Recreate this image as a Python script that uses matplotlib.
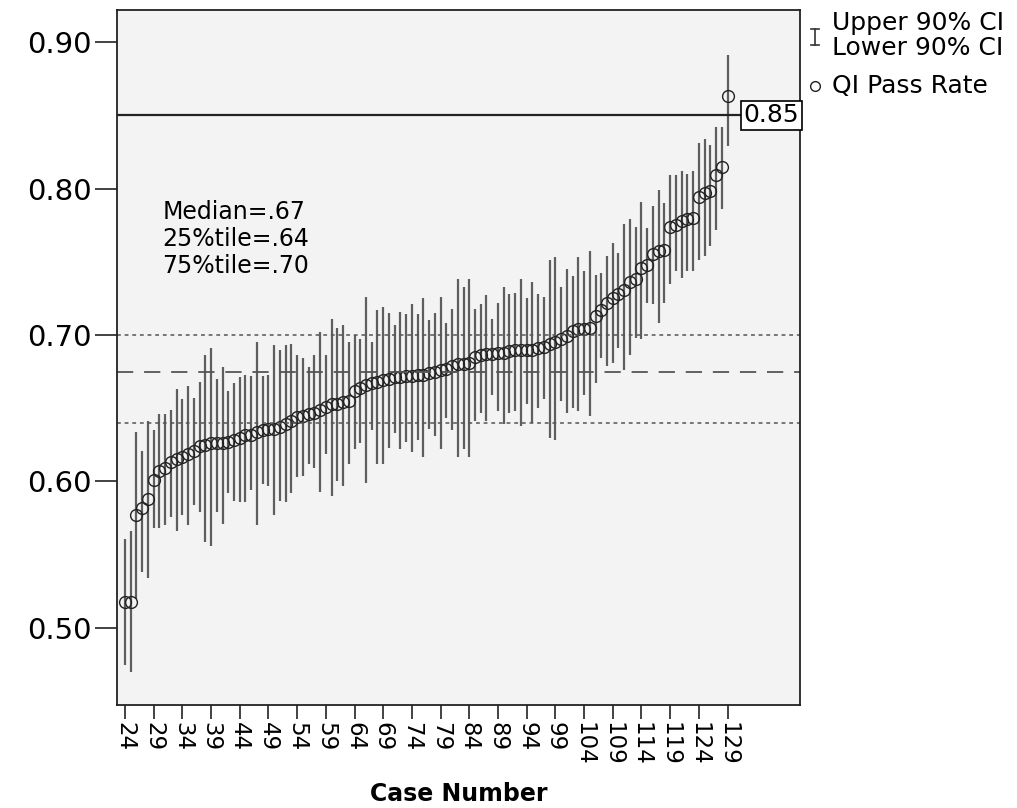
import matplotlib.pyplot as plt
from matplotlib.lines import Line2D
import numpy as np

# Cases, sorted by pass rate
case_number = list(range(24, 130))

pass_rate = [
    0.518, 0.518, 0.577, 0.582, 0.588, 0.601, 0.607, 0.609, 0.613, 0.615,
    0.617, 0.619, 0.621, 0.624, 0.625, 0.626, 0.626, 0.626, 0.627, 0.628,
    0.630, 0.632, 0.632, 0.634, 0.635, 0.636, 0.636, 0.637, 0.639, 0.641,
    0.644, 0.645, 0.646, 0.647, 0.649, 0.651, 0.653, 0.653, 0.654, 0.655,
    0.662, 0.664, 0.666, 0.667, 0.668, 0.669, 0.670, 0.671, 0.671, 0.672,
    0.672, 0.673, 0.673, 0.674, 0.675, 0.676, 0.677, 0.679, 0.680, 0.680,
    0.681, 0.685, 0.686, 0.687, 0.687, 0.688, 0.688, 0.689, 0.690, 0.690,
    0.690, 0.690, 0.691, 0.692, 0.694, 0.695, 0.697, 0.699, 0.703, 0.704,
    0.704, 0.705, 0.713, 0.717, 0.722, 0.725, 0.728, 0.731, 0.736, 0.738,
    0.746, 0.748, 0.755, 0.757, 0.758, 0.774, 0.775, 0.778, 0.779, 0.780,
    0.794, 0.797, 0.798, 0.809, 0.815, 0.863,
]

upper_ci = [
    0.561, 0.566, 0.634, 0.621, 0.641, 0.635, 0.646, 0.646, 0.649, 0.663,
    0.656, 0.665, 0.657, 0.668, 0.686, 0.691, 0.670, 0.678, 0.662, 0.667,
    0.671, 0.673, 0.672, 0.695, 0.672, 0.673, 0.693, 0.690, 0.693, 0.694,
    0.686, 0.684, 0.678, 0.686, 0.702, 0.686, 0.711, 0.705, 0.707, 0.695,
    0.700, 0.697, 0.726, 0.695, 0.717, 0.719, 0.715, 0.707, 0.716, 0.714,
    0.721, 0.714, 0.725, 0.710, 0.715, 0.726, 0.708, 0.718, 0.738, 0.733,
    0.738, 0.718, 0.721, 0.727, 0.711, 0.722, 0.733, 0.728, 0.729, 0.738,
    0.725, 0.736, 0.728, 0.726, 0.751, 0.753, 0.733, 0.745, 0.740, 0.753,
    0.744, 0.757, 0.741, 0.742, 0.754, 0.763, 0.756, 0.776, 0.779, 0.774,
    0.791, 0.773, 0.788, 0.799, 0.790, 0.809, 0.809, 0.812, 0.810, 0.812,
    0.831, 0.834, 0.830, 0.842, 0.842, 0.891,
]

lower_ci = [
    0.475, 0.470, 0.520, 0.538, 0.534, 0.568, 0.568, 0.570, 0.576, 0.566,
    0.577, 0.570, 0.584, 0.579, 0.559, 0.556, 0.579, 0.571, 0.592, 0.587,
    0.586, 0.586, 0.594, 0.570, 0.598, 0.597, 0.577, 0.587, 0.586, 0.592,
    0.603, 0.604, 0.612, 0.609, 0.593, 0.619, 0.590, 0.600, 0.597, 0.612,
    0.622, 0.626, 0.599, 0.635, 0.612, 0.612, 0.623, 0.633, 0.622, 0.627,
    0.620, 0.628, 0.617, 0.636, 0.631, 0.622, 0.643, 0.635, 0.617, 0.622,
    0.617, 0.641, 0.647, 0.641, 0.659, 0.648, 0.639, 0.647, 0.648, 0.638,
    0.653, 0.640, 0.650, 0.656, 0.630, 0.628, 0.655, 0.647, 0.650, 0.648,
    0.659, 0.645, 0.667, 0.684, 0.679, 0.681, 0.691, 0.676, 0.686, 0.698,
    0.697, 0.722, 0.721, 0.708, 0.722, 0.735, 0.744, 0.739, 0.744, 0.744,
    0.751, 0.754, 0.761, 0.772, 0.786, 0.829,
]

target = 0.85
median_val = 0.675
q25 = 0.64
q75 = 0.70

fig = plt.figure(figsize=(10.17, 8.08), dpi=100)
ax = fig.add_axes([0.115, 0.1275, 0.672, 0.86])
ax.set_facecolor("#f3f3f3")

# CI bars
ax.vlines(case_number, lower_ci, upper_ci, color="#5e5e5e", linewidth=1.6)
# points
ax.plot(case_number, pass_rate, linestyle="none", marker="o", markersize=8.5,
        markerfacecolor="none", markeredgecolor="#222222", markeredgewidth=1.0)

# reference lines
ax.axhline(target, xmin=0, xmax=0.915, color="#222222", linewidth=1.6)
ax.axhline(q75, color="#555555", linewidth=1.1, linestyle=(0, (2.5, 2.5)))
ax.axhline(q25, color="#555555", linewidth=1.1, linestyle=(0, (2.5, 2.5)))
ax.axhline(median_val, color="#555555", linewidth=1.3, linestyle=(0, (9, 6)))

ax.text(0.9985, target, "0.85", transform=ax.get_yaxis_transform(), ha="right",
        va="center", fontsize=18,
        bbox=dict(boxstyle="square,pad=0.1", facecolor="white", edgecolor="black", linewidth=1.2))

ax.text(30.5, 0.792, "Median=.67\n25%tile=.64\n75%tile=.70", fontsize=17,
        va="top", ha="left", linespacing=1.15)

ax.set_xlim(22.6, 141.7)
ax.set_ylim(0.4474, 0.9218)
ax.set_xticks(case_number[::5])
ax.set_xticklabels([str(c) for c in case_number[::5]], rotation=270, fontsize=16.5)
ax.set_yticks([0.5, 0.6, 0.7, 0.8, 0.9])
ax.set_yticklabels(["0.50", "0.60", "0.70", "0.80", "0.90"], fontsize=21)
ax.tick_params(axis="y", direction="out", length=16, width=1.2, color="#222222", pad=2)
ax.tick_params(axis="x", direction="out", length=10, width=1.2, color="#222222", pad=2)
for s in ax.spines.values():
    s.set_linewidth(1.3)
    s.set_color("#222222")

ax.set_xlabel("Case Number", fontsize=17, fontweight="bold", labelpad=12)

# legend, drawn by hand outside the axes
def fx(px):
    return px / 1017.0

def fy(py):
    return 1 - py / 808.0

fig.add_artist(Line2D([fx(815), fx(815)], [fy(29), fy(45)], transform=fig.transFigure,
                      color="#333333", linewidth=1.2))
fig.add_artist(Line2D([fx(811), fx(819)], [fy(29), fy(29)], transform=fig.transFigure,
                      color="#333333", linewidth=1.2))
fig.add_artist(Line2D([fx(811), fx(819)], [fy(45), fy(45)], transform=fig.transFigure,
                      color="#333333", linewidth=1.2))
fig.add_artist(Line2D([fx(815)], [fy(86)], transform=fig.transFigure, marker="o",
                      markersize=7, markerfacecolor="none", markeredgecolor="#222222"))
fig.text(fx(832), fy(23), "Upper 90% CI", fontsize=18, va="center", ha="left")
fig.text(fx(832), fy(48), "Lower 90% CI", fontsize=18, va="center", ha="left")
fig.text(fx(832), fy(86), "QI Pass Rate", fontsize=18, va="center", ha="left")

plt.savefig("out.png", dpi=100)
